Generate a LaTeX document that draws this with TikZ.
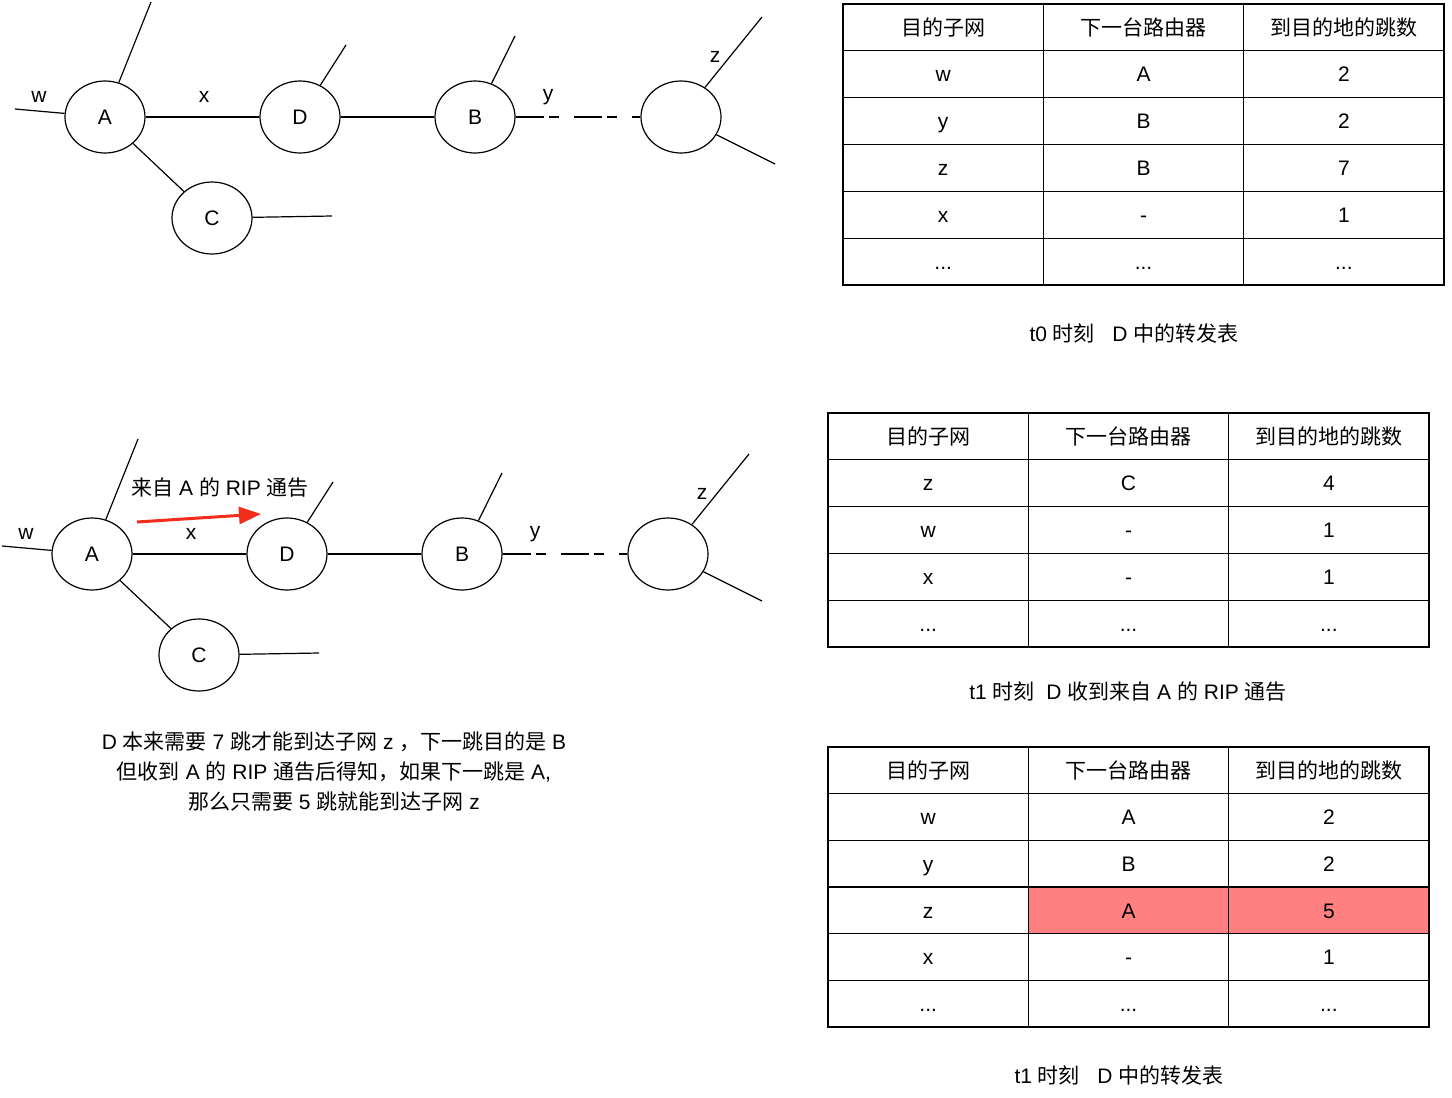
\documentclass[tikz,border=0pt]{standalone}
\usepackage{fontspec}
\setmainfont{Liberation Sans}
\newfontfamily\cjk{Noto Sans CJK SC}
\newcommand\zh[1]{{\cjk #1}}
\newcommand\tdots{...}
\usetikzlibrary{shapes.geometric,arrows.meta}
\definecolor{hotred}{HTML}{FF8080}
\definecolor{arrowred}{HTML}{F22D1B}
\tikzset{
 every node/.style={font=\fontsize{21}{30}\selectfont},
 rnode/.style={ellipse,draw,line width=1.2pt,minimum width=80pt,minimum height=72pt,inner sep=0pt},
 link/.style={line width=1.2pt},
 dashlink/.style={line width=1.2pt,dash pattern=on 28pt off 5pt on 10pt off 15pt},
 lbl/.style={inner sep=0pt},
 cell/.style={draw,line width=1.3pt,inner sep=0pt,anchor=center,text height=15.5pt,text depth=0pt},
 plain/.style={},
 hot/.style={fill=hotred},
}
% prefix, dx, dy
\newcommand\drawnet[3]{%
\begin{scope}[shift={(#2,#3)}]
 \node[rnode] (#1A) at (105,117) {A};
 \node[rnode] (#1D) at (300,117) {D};
 \node[rnode] (#1B) at (475,117) {B};
 \node[rnode] (#1R) at (681,117) {};
 \node[rnode] (#1C) at (212,218) {C};
 \coordinate (#1wend) at (15,109);
 \coordinate (#1Atop) at (151,2);
 \coordinate (#1Dtop) at (346,45);
 \coordinate (#1Btop) at (515,36);
 \coordinate (#1Rtop) at (762,17);
 \coordinate (#1Rbot) at (775,164);
 \coordinate (#1Cend) at (332,216);
 \draw[link] (#1wend) -- (#1A);
 \draw[link] (#1Atop) -- (#1A);
 \draw[link] (#1A) -- (#1D);
 \draw[link] (#1A) -- (#1C);
 \draw[link] (#1Cend) -- (#1C);
 \draw[link] (#1Dtop) -- (#1D);
 \draw[link] (#1D) -- (#1B);
 \draw[link] (#1Btop) -- (#1B);
 \draw[dashlink] (#1B) -- (#1R);
 \draw[link] (#1Rtop) -- (#1R);
 \draw[link] (#1Rbot) -- (#1R);
 \node[lbl] (#1lw) at (39,97) {w};
 \node[lbl] (#1lx) at (204,97) {x};
 \node[lbl] (#1ly) at (548,97) {y};
 \node[lbl] (#1lz) at (715,57) {z};
\end{scope}}
% prefix, x0, y0, cell height, rows
\newcommand\drawtable[5]{%
 \foreach \a/\b/\c/\f [count=\i from 0] in {#5} {
  \node[cell,minimum width=200.33pt,minimum height=#4pt] (#1-\i-1) at ({#2+100.17},{#3+#4/2+#4*\i}) {\a};
  \node[cell,\f,minimum width=200.33pt,minimum height=#4pt] (#1-\i-2) at ({#2+300.5},{#3+#4/2+#4*\i}) {\b};
  \node[cell,\f,minimum width=200.33pt,minimum height=#4pt] (#1-\i-3) at ({#2+500.83},{#3+#4/2+#4*\i}) {\c};
 }}
\begin{document}
\begin{tikzpicture}[x=1pt,y=-1pt]
\fill[white] (0,0) rectangle (1452,1098);
\useasboundingbox (0,0) rectangle (1452,1098);

\drawnet{t}{0}{0}
\drawnet{b}{-13}{437}

% red arrow
\coordinate (arS) at (137,522);
\coordinate (arE) at (261,514);
\draw[arrowred,line width=3pt,-{Triangle[length=22pt,width=17pt]}] (arS) -- (arE);
\node[lbl] (riplabel) at (220,488) {\zh{来自} A \zh{的} RIP \zh{通告}};

% description
\node[align=center,inner sep=0pt] (desc) at (334,771) {D \zh{本来需要} 7 \zh{跳才能到达子网} z \zh{，下一跳目的是} B\\
\zh{但收到} A \zh{的} RIP \zh{通告后得知，如果下一跳是} A,\\
\zh{那么只需要} 5 \zh{跳就能到达子网} z};

% tables
\drawtable{ta}{843}{4}{46.83}{{\zh{目的子网}}/{\zh{下一台路由器}}/{\zh{到目的地的跳数}}/plain, w/A/2/plain, y/B/2/plain, z/B/7/plain, x/-/1/plain, \tdots/\tdots/\tdots/plain}
\node[lbl] (capa) at (1134,333) {t0 \zh{时刻}\ \ \ D \zh{中的转发表}};

\drawtable{tb}{828}{413}{46.8}{{\zh{目的子网}}/{\zh{下一台路由器}}/{\zh{到目的地的跳数}}/plain, z/C/4/plain, w/-/1/plain, x/-/1/plain, \tdots/\tdots/\tdots/plain}
\node[lbl] (capb) at (1128,692) {t1 \zh{时刻}\ \ D \zh{收到来自} A \zh{的} RIP \zh{通告}};

\drawtable{tc}{828}{747}{46.67}{{\zh{目的子网}}/{\zh{下一台路由器}}/{\zh{到目的地的跳数}}/plain, w/A/2/plain, y/B/2/plain, z/A/5/hot, x/-/1/plain, \tdots/\tdots/\tdots/plain}
\node[lbl] (capc) at (1119,1075) {t1 \zh{时刻}\ \ \ D \zh{中的转发表}};
\end{tikzpicture}
\end{document}
